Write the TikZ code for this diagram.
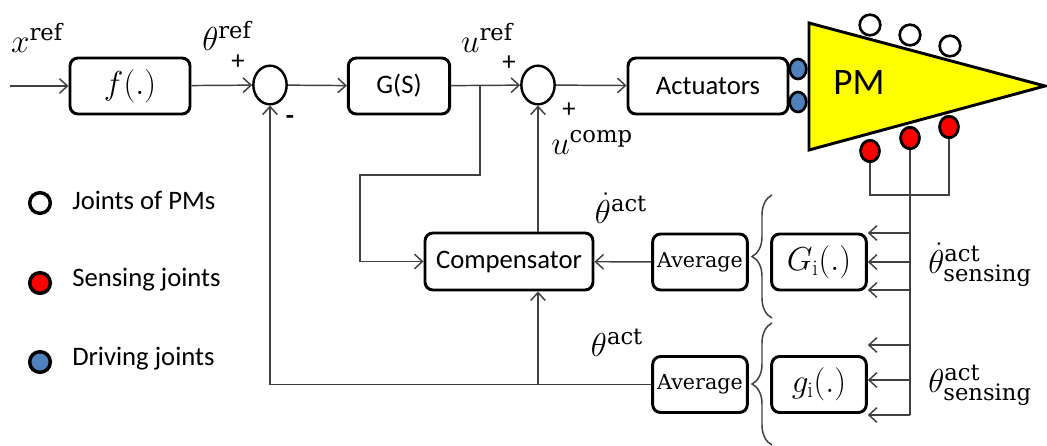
\documentclass[tikz,border=0pt]{standalone}
\usepackage{fontspec}
\newfontfamily\calib{Carlito}
\newfontfamily\serifalt{DejaVu Serif}
\usetikzlibrary{arrows.meta,shapes.geometric,decorations.pathreplacing}
\definecolor{linegray}{HTML}{404040}
\definecolor{jointblue}{HTML}{4F81BD}
\definecolor{jointred}{HTML}{FF0000}
\definecolor{pmyellow}{HTML}{FFFF00}
\newcommand\mtxt[1]{\mbox{\serifalt\fontsize{17}{17}\selectfont #1}}
\begin{document}
\begin{tikzpicture}[x=0.75pt,y=-0.75pt,
  blk/.style={draw=black,line width=2.2pt,rounded corners=6pt,fill=white,inner sep=0pt,minimum height=42pt},
  sumnode/.style={draw=black,line width=1.8pt,ellipse,minimum width=25pt,minimum height=29pt,inner sep=0pt},
  conn/.style={draw=linegray,line width=1.1pt},
  arr/.style={conn,-{Straight Barb[length=6pt,width=11pt]}},
  sanslbl/.style={font=\calib\fontsize{20}{24}\selectfont,inner sep=0pt},
  mathlbl/.style={font=\fontsize{26}{30}\selectfont,inner sep=0pt},
  serlbl/.style={font=\serifalt\fontsize{15.5}{19}\selectfont},
  joint/.style={ellipse,draw=black,line width=2pt,inner sep=0pt},
  wjoint/.style={joint,fill=white,minimum width=15.5pt,minimum height=15.5pt},
  rjoint/.style={joint,fill=jointred,minimum width=14pt,minimum height=16pt},
  bjoint/.style={joint,fill=jointblue,minimum width=12.5pt,minimum height=15pt},
  legjoint/.style={joint,line width=2.6pt,minimum width=15.5pt,minimum height=15.5pt},
  bracestyle/.style={draw=linegray,line width=1.1pt,decorate,decoration={brace,amplitude=15pt}}
]
\useasboundingbox (0,0) rectangle (1047,446);

% forward path blocks
\node[blk,minimum width=90pt,font=\fontsize{26}{30}\selectfont] (f) at (130,86) {$f(.)$};
\node[sumnode] (sum1) at (270,85) {};
\node[blk,minimum width=76pt,sanslbl] (G) at (399,86) {G(S)};
\node[sumnode] (sum2) at (538,85) {};
\node[blk,minimum width=120pt,sanslbl] (act) at (708,86) {Actuators};

% feedback blocks
\node[blk,minimum width=126pt,minimum height=42.75pt,sanslbl] (comp) at (509,261.5) {Compensator};
\node[blk,minimum width=71pt,serlbl] (avg1) at (700,262) {Average};
\node[blk,minimum width=71pt,serlbl] (avg2) at (700,384.5) {Average};
\node[blk,minimum width=71pt,font=\fontsize{24}{28}\selectfont] (Gi) at (819,262) {$G_{\mathrm{i}}(.)$};
\node[blk,minimum width=71pt,font=\fontsize{24}{28}\selectfont] (gi) at (819,384.5) {$g_{\mathrm{i}}(.)$};

% sensing wires behind the mechanism
\node[rjoint] (r1) at (870,151) {};
\node[rjoint] (r2) at (910,138) {};
\node[rjoint] (r3) at (949,127) {};
\coordinate (bus) at (910,195);
\coordinate (stemend) at (910,415);
\draw[conn] (r1.south) -- (r1.south |- bus) -- (r3.south |- bus) -- (r3.south);
\draw[conn] (r2.south) -- (stemend);

% parallel mechanism
\draw[fill=pmyellow,line width=2.2pt,line join=miter] (809,23) -- (1045,86) -- (809,150) -- cycle;
\node[font=\calib\fontsize{28}{32}\selectfont] (pm) at (859,83) {PM};
\node[wjoint] (w1) at (870,25) {};
\node[wjoint] (w2) at (910,35) {};
\node[wjoint] (w3) at (950,46) {};
\node[rjoint] at (r1) {};
\node[rjoint] at (r2) {};
\node[rjoint] at (r3) {};
\node[bjoint] (d1) at (798,69) {};
\node[bjoint] (d2) at (798,102) {};

% forward connectors
\coordinate (in) at (10,86);
\draw[arr] (in) -- (f);
\draw[arr] (f) -- (sum1);
\draw[arr] (sum1) -- (G);
\draw[arr] (G) -- (sum2);
\draw[arr] (sum2) -- (act);

% reference branch into the compensator
\coordinate (b1) at (480,86);
\coordinate (b2) at (360,175);
\draw[arr] (b1) |- (b2) |- (comp.west);

% compensation and feedback
\draw[arr] (comp.north -| sum2.south) -- (sum2.south);
\draw[arr] (avg1) -- (comp);
\draw[arr] (avg2.west) -| (sum1.south);
\coordinate (j2) at (avg2.west -| sum2.south);
\draw[arr] (j2) -- (j2 |- comp.south);

% sensor taps
\foreach \yy/\nm in {233/Gi,262/Gi,290/Gi,345/gi,380/gi,415/gi}{
  \coordinate (tap) at (910,\yy);
  \draw[arr] (tap) -- (tap -| \nm.east);
}

% braces grouping the joint filters
\draw[bracestyle] (772,318) -- (772,195);
\draw[bracestyle] (772,445) -- (772,323);

% signal labels
\node[mathlbl] (lx) at (37,38) {$x^{\mtxt{ref}}$};
\node[mathlbl] (lth) at (227,36) {$\theta^{\mtxt{ref}}$};
\node[sanslbl] (p1) at (238,62) {+};
\node[sanslbl,font=\calib\bfseries\fontsize{20}{24}\selectfont] (m1) at (290,120) {-};
\node[mathlbl] (lu) at (487,38) {$u^{\mtxt{ref}}$};
\node[sanslbl] (p2) at (509,63) {+};
\node[sanslbl] (p3) at (569,110) {+};
\node[mathlbl] (luc) at (592,142) {$u^{\mtxt{comp}}$};
\node[mathlbl] (ltd) at (621,208) {$\dot\theta^{\mtxt{act}}$};
\node[mathlbl] (lta) at (617,343) {$\theta^{\mtxt{act}}$};
\node[mathlbl,anchor=west] (lsd) at (928,265) {$\dot\theta^{\mtxt{act}}_{\mtxt{sensing}}$};
\node[mathlbl,anchor=west] (lsa) at (928,385) {$\theta^{\mtxt{act}}_{\mtxt{sensing}}$};

% legend
\node[legjoint,fill=white] (k1) at (40,203) {};
\node[legjoint,fill=jointred] (k2) at (40,283) {};
\node[legjoint,fill=jointblue] (k3) at (40,362) {};
\node[sanslbl,anchor=west] (t1) at (72,200) {Joints of PMs};
\node[sanslbl,anchor=west] (t2) at (72,280) {Sensing joints};
\node[sanslbl,anchor=west] (t3) at (72,359) {Driving joints};
\end{tikzpicture}
\end{document}
